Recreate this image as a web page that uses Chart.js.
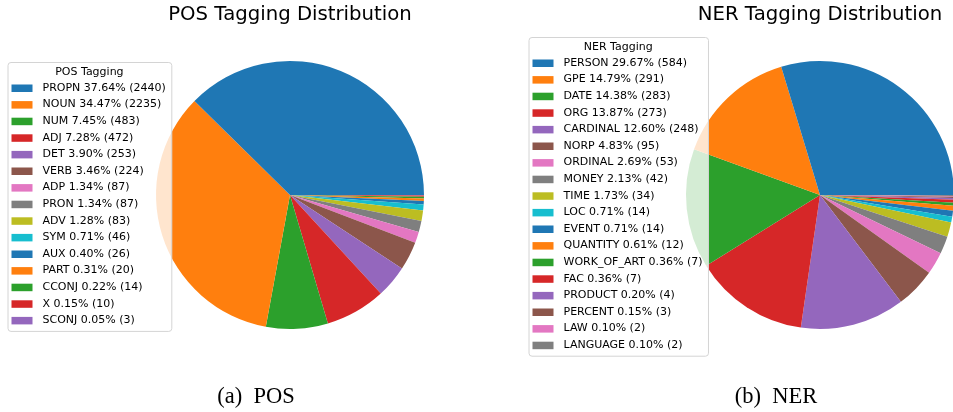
<!DOCTYPE html>
<html>
<head>
<meta charset="utf-8">
<script src="https://cdn.jsdelivr.net/npm/chart.js@4.4.0/dist/chart.umd.min.js"></script>
<style>
    html, body { margin: 0; padding: 0; background: #fff; }
    body { width: 953px; height: 412px; position: relative; overflow: hidden; }
    .panel { position: absolute; top: 0; height: 412px; }
    .caption {
        position: absolute; top: 383px;
        font-family: 'Liberation Serif', 'Times New Roman', serif;
        font-size: 22.5px; line-height: 26px; color: #000;
        white-space: pre; transform: translateX(-50%);
    }
</style>
</head>
<body>
<div class="panel" style="left:0;width:476px"><canvas id="posChart" width="476" height="412"></canvas></div>
<div class="panel" style="left:476px;width:478px"><canvas id="nerChart" width="478" height="412"></canvas></div>
<div class="caption" style="left:256px">(a)&ensp;POS</div>
<div class="caption" style="left:776px">(b)&ensp;NER</div>
<script>
// POS tags
const posLabels = ['PROPN', 'NOUN', 'NUM', 'ADJ', 'DET', 'VERB', 'ADP', 'PRON', 'ADV', 'SYM', 'AUX', 'PART', 'CCONJ', 'X', 'SCONJ'];
const posCounts = [2440, 2235, 483, 472, 253, 224, 87, 87, 83, 46, 26, 20, 14, 10, 3];

// NER tags
const nerLabels = ['PERSON', 'GPE', 'DATE', 'ORG', 'CARDINAL', 'NORP', 'ORDINAL', 'MONEY', 'TIME', 'LOC', 'EVENT', 'QUANTITY', 'WORK_OF_ART', 'FAC', 'PRODUCT', 'PERCENT', 'LAW', 'LANGUAGE'];
const nerCounts = [584, 291, 283, 273, 248, 95, 53, 42, 34, 14, 14, 12, 7, 7, 4, 3, 2, 2];

// matplotlib tab10
const tab10 = ['#1f77b4', '#ff7f0e', '#2ca02c', '#d62728', '#9467bd', '#8c564b', '#e377c2', '#7f7f7f', '#bcbd22', '#17becf'];

Chart.defaults.font.family = '"DejaVu Sans", sans-serif';
Chart.defaults.color = '#000';

// legend box drawn over the pie (like matplotlib with framealpha 0.8)
const boxLegend = {
    id: 'boxLegend',
    afterDraw(chart, args, opts) {
        const ctx = chart.ctx;
        // chart data is stored reversed (matplotlib goes counter-clockwise)
        const labels = chart.data.labels.slice().reverse();
        const counts = chart.data.datasets[0].data.slice().reverse();
        const colors = chart.data.datasets[0].backgroundColor.slice().reverse();
        const total = counts.reduce((a, b) => a + b, 0);
        const texts = labels.map((l, i) => `${l} ${(counts[i] / total * 100).toFixed(2)}% (${counts[i]})`);

        ctx.save();
        ctx.font = '11px "DejaVu Sans"';
        const rowH = 16.6;
        const w = 40.5 + Math.max(...texts.map(t => ctx.measureText(t).width));
        const h = 36.5 + (texts.length - 1) * rowH;
        const x = opts.x;
        const y = Math.round(opts.centerY - h / 2);

        ctx.beginPath();
        ctx.roundRect(x + 0.5, y + 0.5, w, h, 3);
        ctx.fillStyle = 'rgba(255,255,255,0.8)';
        ctx.fill();
        ctx.strokeStyle = '#d4d4d4';
        ctx.lineWidth = 1;
        ctx.stroke();

        ctx.fillStyle = '#000';
        ctx.textBaseline = 'middle';
        ctx.textAlign = 'center';
        ctx.fillText(opts.title, x + w / 2, y + 10);
        ctx.textAlign = 'left';
        texts.forEach((t, i) => {
            const cy = y + 26 + i * rowH;
            ctx.fillStyle = colors[i];
            ctx.fillRect(x + 4, cy - 3.5, 21, 7.5);
            ctx.fillStyle = '#000';
            ctx.fillText(t, x + 35, cy);
        });
        ctx.restore();
    }
};

function makePie(id, labels, counts, title, legendTitle, padding, legendX) {
    const colors = labels.map((_, i) => tab10[i % 10]);
    return new Chart(document.getElementById(id), {
        type: 'pie',
        data: {
            labels: labels.slice().reverse(),
            datasets: [{
                data: counts.slice().reverse(),
                backgroundColor: colors.slice().reverse(),
                borderWidth: 0,
                hoverOffset: 0,
            }],
        },
        options: {
            responsive: false,
            animation: false,
            events: [],
            rotation: 90,
            layout: { padding: padding },
            plugins: {
                legend: { display: false },
                tooltip: { enabled: false },
                title: {
                    display: true,
                    text: title,
                    color: '#000',
                    font: { size: 19.7, weight: 'normal' },
                    padding: { top: 3, bottom: 34.4 },
                },
                boxLegend: { title: legendTitle, x: legendX, centerY: 196 },
            },
        },
        plugins: [boxLegend],
    });
}

makePie('posChart', posLabels, posCounts, 'POS Tagging Distribution', 'POS Tagging',
    { left: 156, right: 52, top: 0, bottom: 83 }, 7.5);
makePie('nerChart', nerLabels, nerCounts, 'NER Tagging Distribution', 'NER Tagging',
    { left: 210, right: 0, top: 0, bottom: 83 }, 52.5);
</script>
</body>
</html>
